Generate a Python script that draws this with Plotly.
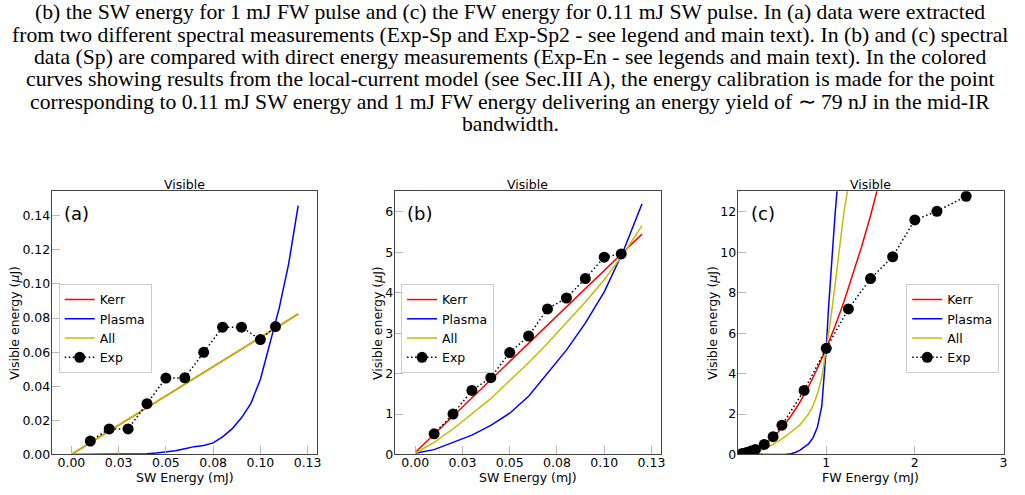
import plotly.graph_objects as go

# ---------------- data ----------------
caption_lines = [
    "(b) the SW energy for 1 mJ FW pulse and (c) the FW energy for 0.11 mJ SW pulse. In (a) data were extracted",
    "from two different spectral measurements (Exp-Sp and Exp-Sp2 - see legend and main text). In (b) and (c) spectral",
    "data (Sp) are compared with direct energy measurements (Exp-En - see legends and main text). In the colored",
    "curves showing results from the local-current model (see Sec.III A), the energy calibration is made for the point",
    "corresponding to 0.11 mJ SW energy and 1 mJ FW energy delivering an energy yield of ∼ 79 nJ in the mid-IR",
    "bandwidth.",
]

sw_tickvals = [0, 0.025, 0.05, 0.075, 0.1, 0.125]
sw_ticktext = ["0.00", "0.03", "0.05", "0.08", "0.10", "0.13"]
a_ytickvals = [0, 0.02, 0.04, 0.06, 0.08, 0.10, 0.12, 0.14]
a_yticktext = ["0.00", "0.02", "0.04", "0.06", "0.08", "0.10", "0.12", "0.14"]
b_ytickvals = [0, 1, 2, 3, 4, 5, 6]
c_xtickvals = [1, 2, 3]
c_ytickvals = [0, 2, 4, 6, 8, 10, 12]

# panel (a)
a_model_x = [0, 0.02, 0.04, 0.06, 0.08, 0.10, 0.12]
a_kerr = [0, 0.0137, 0.0275, 0.0412, 0.0550, 0.0687, 0.0824]
a_all = [0, 0.0137, 0.0275, 0.0412, 0.0550, 0.0687, 0.0824]
a_plasma_x = [0, 0.01, 0.02, 0.03, 0.035, 0.04, 0.045, 0.05, 0.055, 0.06, 0.065, 0.07,
              0.075, 0.08, 0.085, 0.09, 0.095, 0.10, 0.105, 0.11, 0.115, 0.12]
a_plasma = [0, 0, 0, 0.0001, 0.0002, 0.0004, 0.0008, 0.0013, 0.0022, 0.0034, 0.0046, 0.0053,
            0.0068, 0.0103, 0.0150, 0.0215, 0.0300, 0.0440, 0.0650, 0.0860, 0.1120, 0.1460]
a_exp_x = [0.01, 0.02, 0.03, 0.04, 0.05, 0.06, 0.07, 0.08, 0.09, 0.10, 0.108]
a_exp = [0.0079, 0.015, 0.015, 0.0298, 0.0448, 0.045, 0.0599, 0.0747, 0.0747, 0.0674, 0.075]

# panel (b)
b_model_x = [0, 0.01, 0.02, 0.03, 0.04, 0.05, 0.06, 0.07, 0.08, 0.09, 0.10, 0.11, 0.12]
b_kerr = [0.05, 0.50, 0.95, 1.40, 1.85, 2.30, 2.75, 3.20, 3.65, 4.10, 4.55, 5.00, 5.45]
b_plasma = [0.03, 0.12, 0.30, 0.48, 0.72, 1.02, 1.44, 2.00, 2.58, 3.25, 4.02, 5.02, 6.20]
b_all = [0.03, 0.30, 0.63, 1.00, 1.38, 1.83, 2.27, 2.75, 3.25, 3.77, 4.32, 4.95, 5.66]
b_exp_x = [0.01, 0.02, 0.03, 0.04, 0.05, 0.06, 0.07, 0.08, 0.09, 0.10, 0.109]
b_exp = [0.51, 1.00, 1.585, 1.90, 2.52, 2.93, 3.60, 3.87, 4.35, 4.88, 4.96]

# panel (c)
c_kerr_x = [0, 0.1, 0.2, 0.3, 0.4, 0.5, 0.6, 0.7, 0.8, 0.9, 1.0, 1.1, 1.2, 1.3, 1.4, 1.5, 1.6, 1.7]
c_kerr = [0, 0.05, 0.21, 0.47, 0.84, 1.31, 1.89, 2.57, 3.36, 4.25, 5.25, 6.35, 7.56, 8.87,
          10.29, 11.81, 13.44, 15.17]
c_plasma_x = [0, 0.5, 0.55, 0.6, 0.65, 0.7, 0.75, 0.8, 0.85, 0.9, 0.95, 1.0, 1.025, 1.05,
              1.075, 1.1, 1.125, 1.15]
c_plasma = [0, 0, 0.01, 0.04, 0.10, 0.20, 0.34, 0.52, 0.82, 1.35, 2.40, 5.25, 7.20, 8.90,
            10.50, 11.90, 13.20, 14.50]
c_all_x = [0, 0.1, 0.2, 0.3, 0.4, 0.5, 0.6, 0.7, 0.8, 0.85, 0.9, 0.95, 1.0, 1.05, 1.1,
           1.15, 1.2, 1.25, 1.3]
c_all = [0, 0.03, 0.12, 0.27, 0.50, 0.77, 1.10, 1.45, 2.00, 2.40, 3.00, 3.80, 5.25, 6.70,
         8.40, 10.20, 12.00, 13.30, 15.00]
c_exp_x = [0.05, 0.10, 0.15, 0.20, 0.30, 0.40, 0.50, 0.75, 1.00, 1.25, 1.50, 1.75, 2.00,
           2.25, 2.58]
c_exp = [0.05, 0.10, 0.17, 0.25, 0.50, 0.88, 1.45, 3.17, 5.25, 7.20, 8.70, 9.78, 11.60,
         12.03, 12.77]

# ---------------- figure ----------------
W, H = 1025, 495
FONT = "DejaVu Sans"
RED, BLUE, YEL = "#ff0000", "#0000ff", "#bfbf00"


def px_x(p):
    return p / W


def px_y(p):
    return 1 - p / H


panels = [
    dict(name="a", xd=(52, 319), xr=[-0.0104, 0.1302], yr=[0, 0.1544],
         xt=(sw_tickvals, sw_ticktext), yt=(a_ytickvals, a_yticktext),
         xtitle="SW Energy (mJ)", ytx=15, leg=59),
    dict(name="b", xd=(396.7, 664), xr=[-0.0108, 0.1299], yr=[0, 6.51],
         xt=(sw_tickvals, sw_ticktext), yt=(b_ytickvals, [str(v) for v in b_ytickvals]),
         xtitle="SW Energy (mJ)", ytx=380, leg=403),
    dict(name="c", xd=(741.3, 1009), xr=[0, 3.008], yr=[0, 13.02],
         xt=(c_xtickvals, [str(v) for v in c_xtickvals]),
         yt=(c_ytickvals, [str(v) for v in c_ytickvals]),
         xtitle="FW Energy (mJ)", ytx=716.5, leg=910.7),
]

series = {
    "a": [("Kerr", a_model_x, a_kerr, RED), ("Plasma", a_plasma_x, a_plasma, BLUE),
          ("All", a_model_x, a_all, YEL), ("Exp", a_exp_x, a_exp, "black")],
    "b": [("Kerr", b_model_x, b_kerr, RED), ("Plasma", b_model_x, b_plasma, BLUE),
          ("All", b_model_x, b_all, YEL), ("Exp", b_exp_x, b_exp, "black")],
    "c": [("Kerr", c_kerr_x, c_kerr, RED), ("Plasma", c_plasma_x, c_plasma, BLUE),
          ("All", c_all_x, c_all, YEL), ("Exp", c_exp_x, c_exp, "black")],
}

fig = go.Figure()
layout = dict(width=W, height=H, margin=dict(l=0, r=0, t=0, b=0),
              plot_bgcolor="white", paper_bgcolor="white",
              font=dict(family=FONT, size=12.5, color="black"))
annotations = []
YTOP, YBOT = 194, 461


def ann(text, x, y, size=12.5, family=FONT, angle=0):
    return dict(text=text, x=px_x(x), y=px_y(y), xref="paper", yref="paper",
                xanchor="center", yanchor="middle", showarrow=False, textangle=angle,
                font=dict(family=family, size=size, color="black"))


for i, p in enumerate(panels):
    k = "" if i == 0 else str(i + 1)
    legname = "legend" + k
    for name, xs, ys, col in series[p["name"]]:
        if name == "Exp":
            tr = go.Scatter(x=xs, y=ys, name=name, mode="lines+markers",
                            line=dict(color="black", width=1.5, dash="1.5px,2.5px"),
                            marker=dict(color="black", size=11))
        else:
            tr = go.Scatter(x=xs, y=ys, name=name, mode="lines",
                            line=dict(color=col, width=1.5))
        tr.update(xaxis="x" + k, yaxis="y" + k, legend=legname)
        fig.add_trace(tr)
    axcommon = dict(showline=True, linecolor="#444444", linewidth=1, mirror=True,
                    ticks="inside", ticklen=8, tickcolor="#b8b8b8", tickwidth=1,
                    showgrid=False, zeroline=False,
                    tickfont=dict(family=FONT, size=12.5, color="black"))
    layout["xaxis" + k] = dict(axcommon, domain=[px_x(p["xd"][0]), px_x(p["xd"][1])],
                               range=p["xr"], anchor="y" + k, ticklabelstandoff=-3,
                               tickvals=p["xt"][0], ticktext=p["xt"][1])
    layout["yaxis" + k] = dict(axcommon, domain=[px_y(YBOT), px_y(YTOP)],
                               range=p["yr"], anchor="x" + k, ticklabelstandoff=-2,
                               tickvals=p["yt"][0], ticktext=p["yt"][1])
    layout[legname] = dict(x=px_x(p["leg"]), y=px_y(288), xanchor="left", yanchor="top",
                           bgcolor="rgba(255,255,255,0.8)", bordercolor="#cccccc",
                           borderwidth=1, font=dict(family=FONT, size=12.5),
                           tracegroupgap=0, itemwidth=30)
    cx = (p["xd"][0] + p["xd"][1]) / 2
    annotations.append(ann("Visible", cx, 187.5))
    annotations.append(ann(p["xtitle"], cx, 484))
    annotations.append(ann("Visible energy (<i>μ</i>J)", p["ytx"], (YTOP + YBOT) / 2,
                           angle=-90))
    annotations.append(ann("(" + p["name"] + ")", p["xd"][0] + 25, 216.5, size=18))

cap_y = [12, 35, 57.5, 80.5, 103.5, 126]
for line, yy in zip(caption_lines, cap_y):
    annotations.append(ann(line, W / 2, yy, size=21.7, family="Liberation Serif"))

layout["annotations"] = annotations
fig.update_layout(**layout)
fig.write_html("out.html")
